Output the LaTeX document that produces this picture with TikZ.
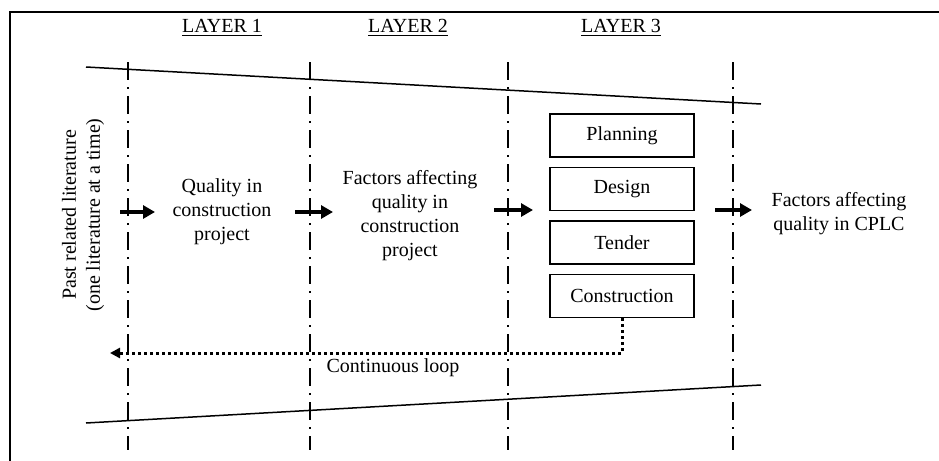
\documentclass[tikz,border=0pt]{standalone}
\usepackage{fontspec}
\setmainfont{Liberation Serif}
\usetikzlibrary{arrows.meta,positioning}

\begin{document}
\begin{tikzpicture}[x=0.5pt,y=-0.5pt,font=\fontsize{10}{12}\selectfont,
box/.style={draw,line width=.75pt,minimum width=72pt,minimum height=21.5pt,inner sep=0pt},
txt/.style={align=center,inner sep=1pt},
divider/.style={line width=.75pt,dash pattern=on 9pt off 3.5pt on 1pt off 3.5pt},
arr/.style={-{Triangle[length=6pt,width=6.5pt]},line width=2pt},
loop/.style={-{Triangle[length=5pt,width=5pt]},line width=1.5pt,dash pattern=on 1.5pt off 1.5pt}]
\useasboundingbox (0,0) rectangle (939,461);
% frame
\draw[line width=.75pt] (939,12) -- (10,12) -- (10,461);
% boundary lines and layer dividers
\draw[line width=.75pt] (86,67) -- (761,104);
\draw[line width=.75pt] (86,423) -- (761,385);
\foreach \x in {128,310,508,733}
  \draw[divider] (\x,62) -- (\x,450);
% headings
\node[txt] (h1) at (222,28) {\underline{LAYER 1}};
\node[txt] (h2) at (408,28) {\underline{LAYER 2}};
\node[txt] (h3) at (621,28) {\underline{LAYER 3}};
% layer contents
\node[txt,rotate=90] (lit) at (83,215) {Past related literature\\(one literature at a time)};
\node[txt] (q) at (222,212) {Quality in\\construction\\project};
\node[txt] (f) at (410,216) {Factors affecting\\quality in\\construction\\project};
\node[box] (pl) at (622,135.5) {Planning};
\node[box,below=4.5pt of pl] (de) {Design};
\node[box,below=4.5pt of de] (te) {Tender};
\node[box,below=4.5pt of te] (co) {Construction};
\node[txt] (out) at (839,214) {Factors affecting\\quality in CPLC};
% flow arrows
\coordinate (a1) at (120,212); \coordinate (b1) at (155,212);
\coordinate (a2) at (295,212); \coordinate (b2) at (333,212);
\coordinate (a3) at (494,210); \coordinate (b3) at (533,210);
\coordinate (a4) at (715,210); \coordinate (b4) at (752,210);
\draw[arr] (a1)--(b1);\draw[arr] (a2)--(b2);
\draw[arr] (a3)--(b3);\draw[arr] (a4)--(b4);
% feedback
\coordinate (lp) at (110,353);
\draw[loop] (co.south) |- (lp);
\node[txt] (cl) at (393,368) {Continuous loop};
\end{tikzpicture}
\end{document}
